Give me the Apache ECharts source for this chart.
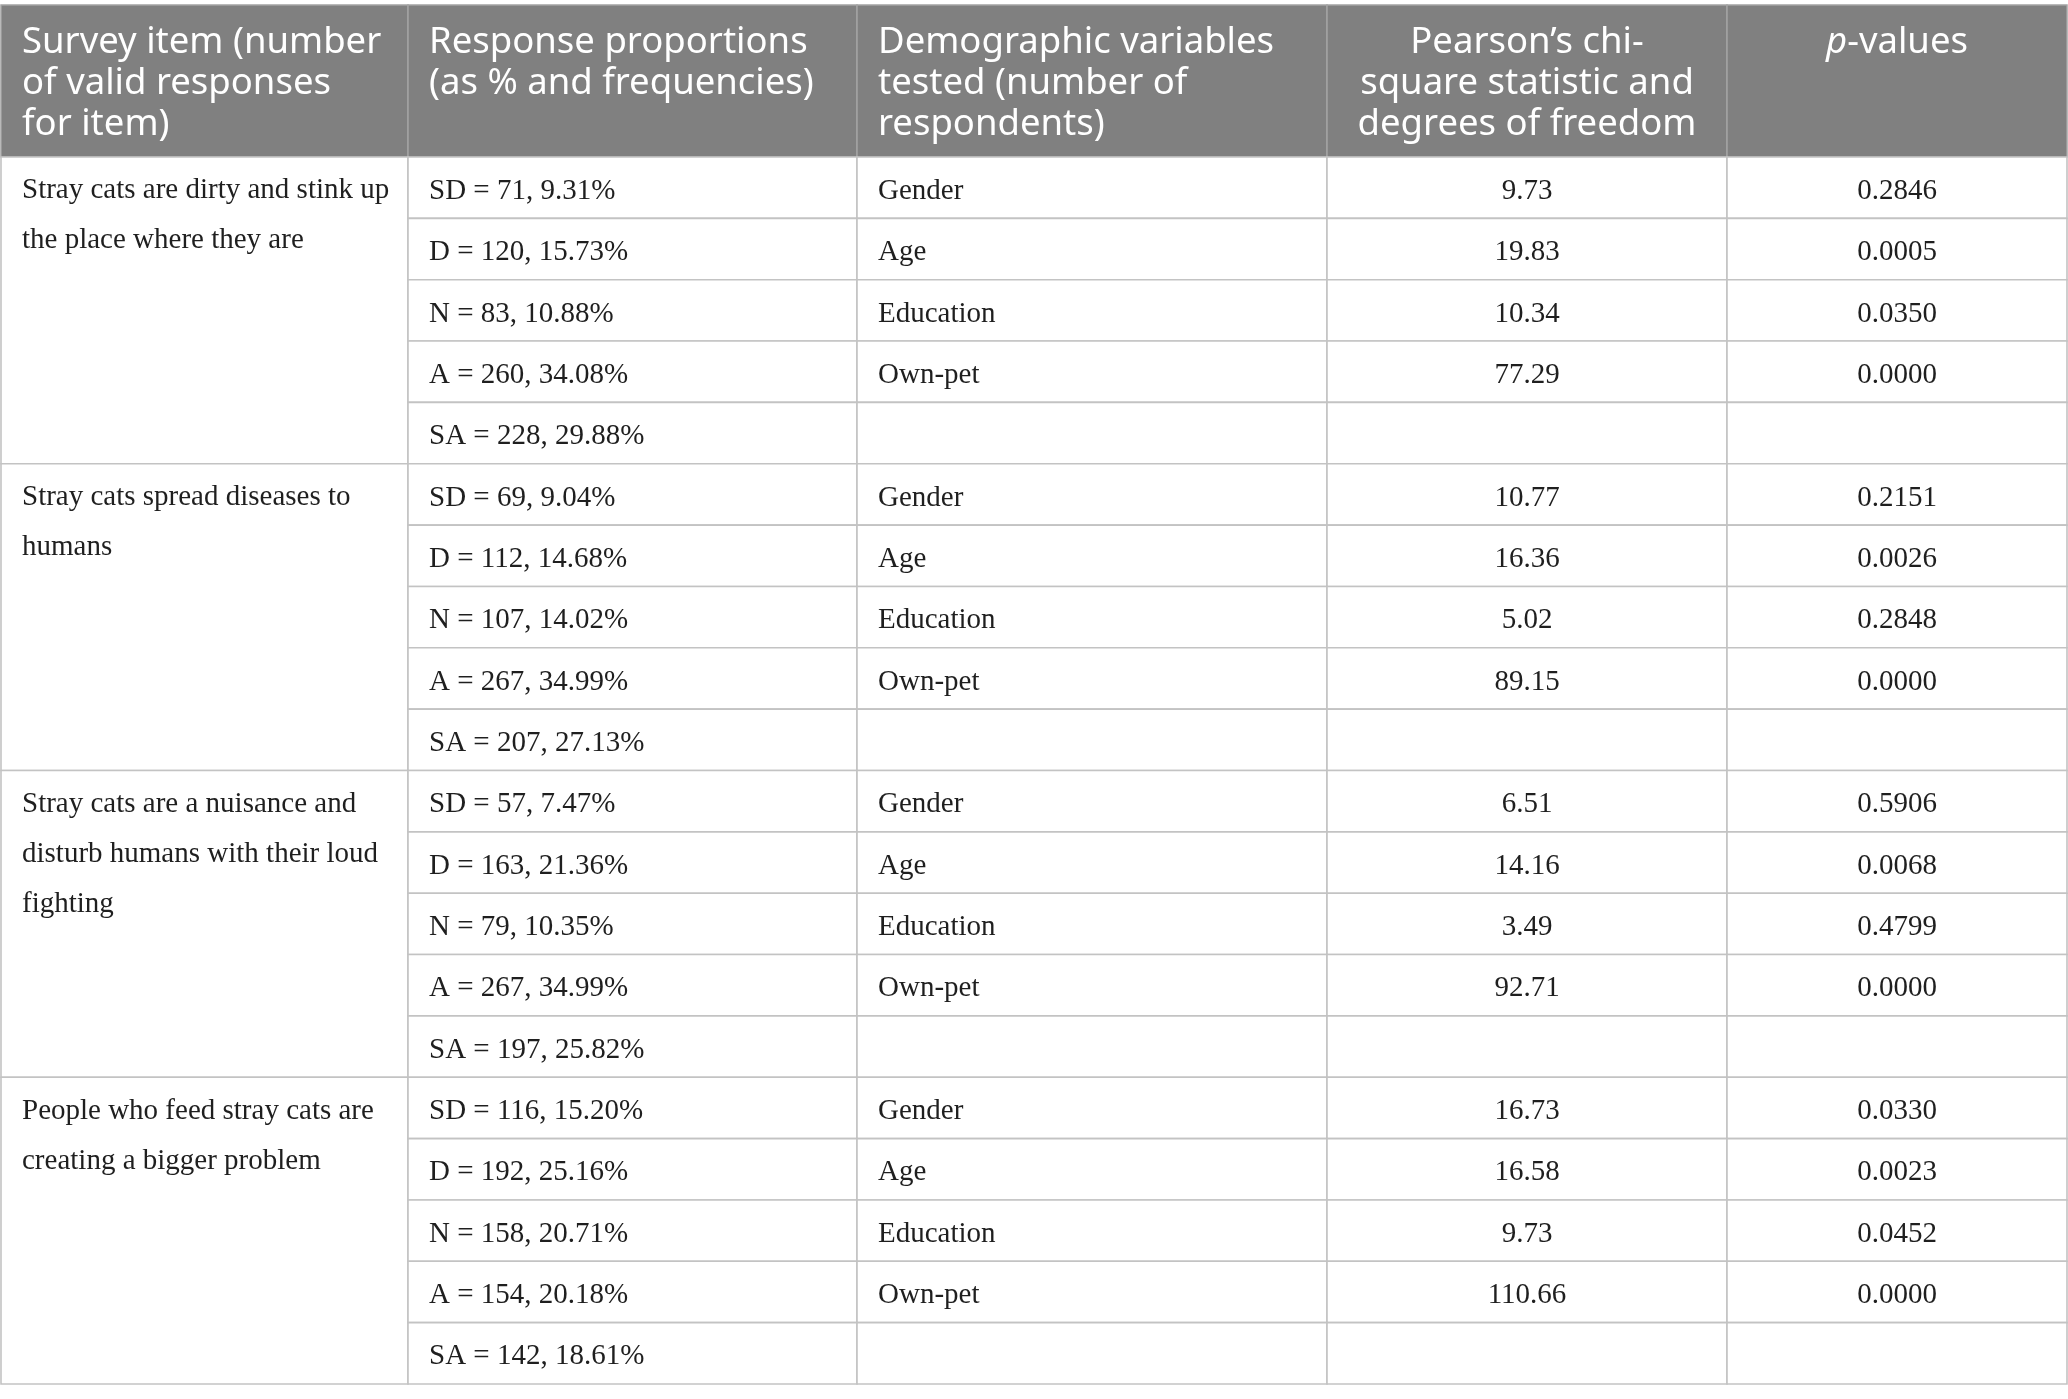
<!DOCTYPE html>
<html>
<head>
<meta charset="utf-8">
<title>Stray cat survey</title>
<script src="https://cdn.jsdelivr.net/npm/echarts@6/dist/echarts.min.js"></script>
<style>
  html, body { margin: 0; padding: 0; background: #fff; }
  #table { width: 2068px; height: 1399px; }
</style>
</head>
<body>
<div id="table"></div>
<script>
// column headers
var headers = [
  'Survey item (number\nof valid responses\nfor item)',
  'Response proportions\n(as % and frequencies)',
  'Demographic variables\ntested (number of\nrespondents)',
  'Pearson\u2019s chi-\nsquare statistic and\ndegrees of freedom',
  '{i|p}-values'
];

// survey items
var items = [
  'Stray cats are dirty and stink up\nthe place where they are',
  'Stray cats spread diseases to\nhumans',
  'Stray cats are a nuisance and\ndisturb humans with their loud\nfighting',
  'People who feed stray cats are\ncreating a bigger problem'
];

var responseCodes = ['SD', 'D', 'N', 'A', 'SA'];

var counts = [
  [71, 120, 83, 260, 228],
  [69, 112, 107, 267, 207],
  [57, 163, 79, 267, 197],
  [116, 192, 158, 154, 142]
];

var percents = [
  [9.31, 15.73, 10.88, 34.08, 29.88],
  [9.04, 14.68, 14.02, 34.99, 27.13],
  [7.47, 21.36, 10.35, 34.99, 25.82],
  [15.20, 25.16, 20.71, 20.18, 18.61]
];

var demographics = ['Gender', 'Age', 'Education', 'Own-pet'];

var chiSquare = [
  [9.73, 19.83, 10.34, 77.29],
  [10.77, 16.36, 5.02, 89.15],
  [6.51, 14.16, 3.49, 92.71],
  [16.73, 16.58, 9.73, 110.66]
];

var pValues = [
  [0.2846, 0.0005, 0.0350, 0.0000],
  [0.2151, 0.0026, 0.2848, 0.0000],
  [0.5906, 0.0068, 0.4799, 0.0000],
  [0.0330, 0.0023, 0.0452, 0.0000]
];

// layout (in axis units: x in px-widths, y in rows)
var colWidths = [407, 449, 470, 400, 340];
var headerRows = 2.478;

var colEdges = [0];
colWidths.forEach(function (w) { colEdges.push(colEdges[colEdges.length - 1] + w); });
var totalRows = items.length * responseCodes.length;

// build cells
var cells = [];
headers.forEach(function (h, c) {
  cells.push({ col: c, row: -headerRows, span: headerRows, text: h, kind: 'head' });
});
items.forEach(function (item, i) {
  var base = i * responseCodes.length;
  cells.push({ col: 0, row: base, span: responseCodes.length, text: item, kind: 'item' });
  responseCodes.forEach(function (code, r) {
    var row = base + r;
    cells.push({ col: 1, row: row, span: 1, text: code + ' = ' + counts[i][r] + ', ' + percents[i][r].toFixed(2) + '%', kind: 'left' });
    var has = r < demographics.length;
    cells.push({ col: 2, row: row, span: 1, text: has ? demographics[r] : '', kind: 'left' });
    cells.push({ col: 3, row: row, span: 1, text: has ? chiSquare[i][r].toFixed(2) : '', kind: 'center' });
    cells.push({ col: 4, row: row, span: 1, text: has ? pValues[i][r].toFixed(4) : '', kind: 'center' });
  });
});

var headFont = '"Noto Sans", "Open Sans", sans-serif';
var bodyFont = '"Liberation Serif", "DejaVu Serif", serif';
var headSize = 36.5;
var bodySize = 29;

function renderCell(params, api) {
  var cell = cells[params.dataIndex];
  var p0 = api.coord([api.value(0), api.value(1)]);
  var p1 = api.coord([api.value(2), api.value(3)]);
  var x = p0[0], y = p0[1], w = p1[0] - p0[0], h = p1[1] - p0[1];
  var head = cell.kind === 'head';
  var centered = cell.kind === 'center' || (head && cell.col >= 3);
  var rowPx = head ? 0 : h / cell.span;

  var textStyle = {
    text: cell.text,
    x: centered ? x + w / 2 : x + 21,
    align: centered ? 'center' : 'left',
    fill: head ? '#ffffff' : '#1f1f1f',
    fontFamily: head ? headFont : bodyFont,
    fontSize: head ? headSize : bodySize
  };
  if (head) {
    textStyle.y = y + 17;
    textStyle.verticalAlign = 'top';
    textStyle.lineHeight = 41;
    textStyle.rich = {
      i: { fontStyle: 'italic', fontFamily: headFont, fontSize: headSize, fill: '#ffffff', lineHeight: 41 }
    };
  } else if (cell.kind === 'item') {
    textStyle.y = y + rowPx / 2 - 22;
    textStyle.verticalAlign = 'top';
    textStyle.lineHeight = 50;
  } else {
    textStyle.y = y + h / 2 + 3.5;
    textStyle.verticalAlign = 'middle';
  }

  return {
    type: 'group',
    children: [
      {
        type: 'rect',
        shape: { x: x, y: y, width: w, height: h },
        style: head
          ? { fill: '#808080', stroke: '#a3a3a3', lineWidth: 1.5 }
          : { fill: '#ffffff', stroke: '#c3c3c3', lineWidth: 1.6 }
      },
      { type: 'text', style: textStyle }
    ]
  };
}

var chart = echarts.init(document.getElementById('table'));
chart.setOption({
  animation: false,
  grid: { left: 1, right: 1, top: 5, bottom: 15 },
  xAxis: { type: 'value', min: 0, max: colEdges[colEdges.length - 1], show: false },
  yAxis: { type: 'value', min: -headerRows, max: totalRows, inverse: true, show: false },
  series: [{
    type: 'custom',
    coordinateSystem: 'cartesian2d',
    clip: false,
    renderItem: renderCell,
    encode: { x: [0, 2], y: [1, 3] },
    data: cells.map(function (c) {
      return [colEdges[c.col], c.row, colEdges[c.col + 1], c.row + c.span];
    })
  }]
});
</script>
</body>
</html>
